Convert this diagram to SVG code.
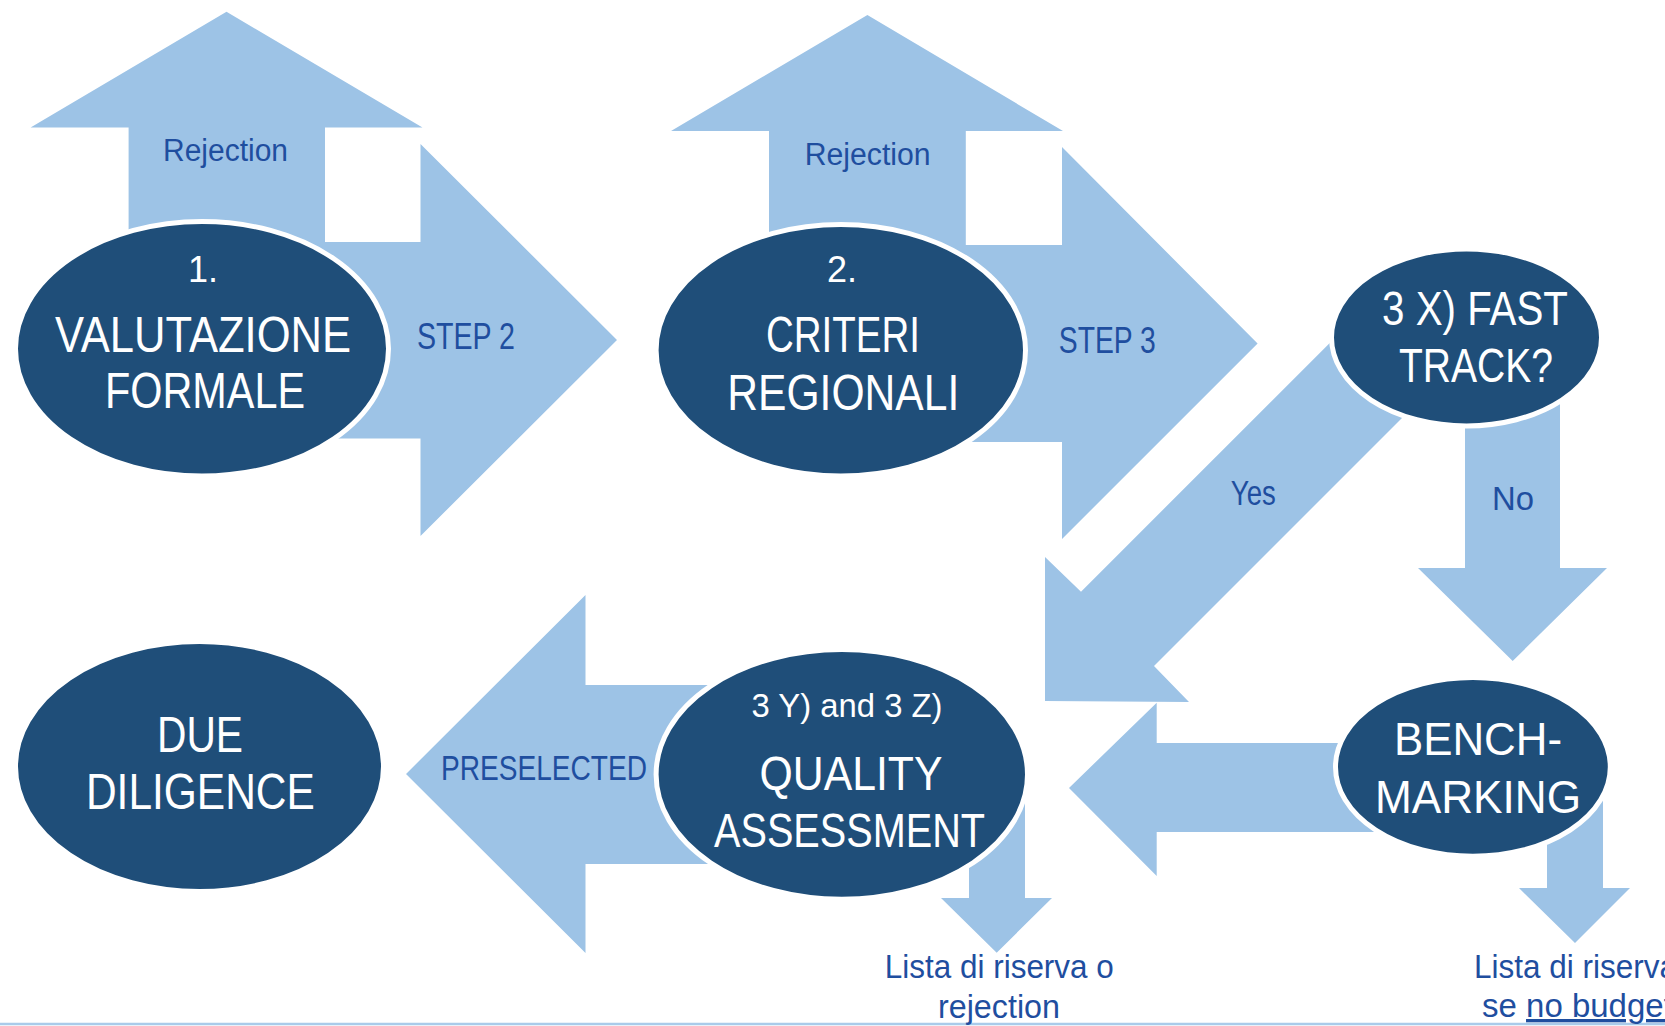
<svg xmlns="http://www.w3.org/2000/svg" width="1665" height="1026" viewBox="0 0 1665 1026">
<style>
.arrow{fill:#9DC3E6;stroke:none}
.node{fill:#1F4E79;stroke:#FFFFFF;stroke-width:5}
.nt{fill:#FFFFFF;font-family:"Liberation Sans",Arial,sans-serif;text-anchor:middle}
.lbl{fill:#1F4E9F;font-family:"Liberation Sans",Arial,sans-serif;text-anchor:middle}
.lbs{fill:#1F4E9F;font-family:"Liberation Sans",Arial,sans-serif;text-anchor:start}
</style>
<rect x="0" y="0" width="1665" height="1026" fill="#FFFFFF"/>
<g id="connectors">
  <polygon id="rej1" class="arrow" points="128.6,300 128.6,127.5 30.6,127.5 226.5,11.8 422.5,127.5 325,127.5 325,300"/>
  <polygon id="step2" class="arrow" points="250,242 420.5,242 420.5,144 617,340 420.5,536 420.5,438.5 250,438.5"/>
  <polygon id="rej2" class="arrow" points="769,300 769,131 671,131 867.4,15 1063,131 965.8,131 965.8,300"/>
  <polygon id="step3" class="arrow" points="880,245 1062,245 1062,147 1257.6,343.5 1062,539 1062,442 880,442"/>
  <polygon id="yes" class="arrow" points="1381,291.7 1081,591.7 1045,557 1045,701 1189,702 1154,666 1454,366"/>
  <polygon id="no" class="arrow" points="1465,390 1465,568 1418,568 1512.7,661 1607,568 1560,568 1560,390"/>
  <polygon id="bench2qa" class="arrow" points="1400,743 1156.7,743 1156.7,702.7 1069,788 1156.7,876 1156.7,832 1400,832"/>
  <polygon id="preselected" class="arrow" points="750,685 585.5,685 585.5,595 406,774 585.5,953 585.5,864 750,864"/>
  <polygon id="qa-reserve" class="arrow" points="969,850 969,898 941,898 996.7,952.7 1052,898 1025,898 1025,800"/>
  <polygon id="bench-reserve" class="arrow" points="1547,830 1547,888 1519,888 1575,943 1630,888 1603,888 1603,790"/>
  <line x1="0" y1="1024" x2="1665" y2="1024" stroke="#A9CBEA" stroke-width="2.5"/>
</g>
<g id="node-valutazione">
  <ellipse class="node" cx="202" cy="348.8" rx="186.5" ry="127.3"/>
  <text class="nt" x="203" y="282" font-size="36">1.</text>
  <text class="nt" x="203" y="352" font-size="50" textLength="296" lengthAdjust="spacingAndGlyphs">VALUTAZIONE</text>
  <text class="nt" x="205" y="408" font-size="50" textLength="200" lengthAdjust="spacingAndGlyphs">FORMALE</text>
</g>
<g id="node-criteri">
  <ellipse class="node" cx="840.8" cy="350.2" rx="184.7" ry="125.7"/>
  <text class="nt" x="842" y="282" font-size="36">2.</text>
  <text class="nt" x="843" y="352" font-size="50" textLength="154" lengthAdjust="spacingAndGlyphs">CRITERI</text>
  <text class="nt" x="843.3" y="410" font-size="50" textLength="232" lengthAdjust="spacingAndGlyphs">REGIONALI</text>
</g>
<g id="node-fasttrack">
  <ellipse class="node" cx="1466.5" cy="337.5" rx="135" ry="88.5"/>
  <text class="nt" x="1475" y="325" font-size="48" textLength="186" lengthAdjust="spacingAndGlyphs">3 X) FAST</text>
  <text class="nt" x="1476" y="382" font-size="48" textLength="154" lengthAdjust="spacingAndGlyphs">TRACK?</text>
</g>
<g id="node-quality">
  <ellipse class="node" cx="841.8" cy="774.4" rx="185.7" ry="124.9"/>
  <text class="nt" x="847" y="717" font-size="34" textLength="191" lengthAdjust="spacingAndGlyphs">3 Y) and 3 Z)</text>
  <text class="nt" x="851" y="790" font-size="48" textLength="183" lengthAdjust="spacingAndGlyphs">QUALITY</text>
  <text class="nt" x="849.5" y="846.7" font-size="48" textLength="271" lengthAdjust="spacingAndGlyphs">ASSESSMENT</text>
</g>
<g id="node-benchmarking">
  <ellipse class="node" cx="1472.9" cy="766.9" rx="137.4" ry="89.4"/>
  <text class="nt" x="1478" y="755" font-size="46" textLength="168" lengthAdjust="spacingAndGlyphs">BENCH-</text>
  <text class="nt" x="1478" y="812.7" font-size="46" textLength="206" lengthAdjust="spacingAndGlyphs">MARKING</text>
</g>
<g id="node-duediligence">
  <ellipse class="node" cx="199.5" cy="766.5" rx="184" ry="125"/>
  <text class="nt" x="200" y="752" font-size="50" textLength="86" lengthAdjust="spacingAndGlyphs">DUE</text>
  <text class="nt" x="200.4" y="809" font-size="50" textLength="229" lengthAdjust="spacingAndGlyphs">DILIGENCE</text>
</g>
<g id="labels">
  <text class="lbl" x="225.5" y="161" font-size="31" textLength="125" lengthAdjust="spacingAndGlyphs">Rejection</text>
  <text class="lbl" x="466" y="349" font-size="36" textLength="98" lengthAdjust="spacingAndGlyphs">STEP 2</text>
  <text class="lbl" x="867.7" y="165" font-size="31" textLength="126" lengthAdjust="spacingAndGlyphs">Rejection</text>
  <text class="lbl" x="1107.3" y="353" font-size="36" textLength="97" lengthAdjust="spacingAndGlyphs">STEP 3</text>
  <text class="lbl" x="1253.3" y="505" font-size="35" textLength="45" lengthAdjust="spacingAndGlyphs">Yes</text>
  <text class="lbl" x="1513" y="510" font-size="34" textLength="42" lengthAdjust="spacingAndGlyphs">No</text>
  <text class="lbl" x="544" y="780" font-size="35" textLength="206" lengthAdjust="spacingAndGlyphs">PRESELECTED</text>
  <text class="lbl" x="999.3" y="977.7" font-size="34" textLength="229" lengthAdjust="spacingAndGlyphs">Lista di riserva o</text>
  <text class="lbl" x="999" y="1018" font-size="34" textLength="122" lengthAdjust="spacingAndGlyphs">rejection</text>
  <text class="lbs" x="1474" y="978" font-size="34" textLength="203" lengthAdjust="spacingAndGlyphs">Lista di riserva</text>
  <text class="lbs" x="1482" y="1017" font-size="33">se <tspan text-decoration="underline">no budget</tspan></text>
</g>
</svg>
